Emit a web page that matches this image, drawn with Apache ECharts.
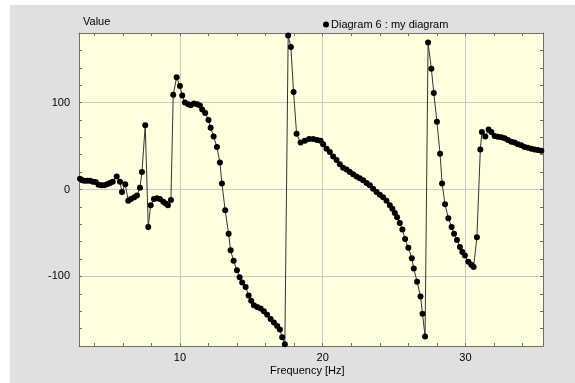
<!DOCTYPE html>
<html>
<head>
<meta charset="utf-8">
<script src="https://cdn.jsdelivr.net/npm/echarts@6/dist/echarts.min.js"></script>
<style>
html,body{margin:0;padding:0;background:#fff;}
#panel{position:absolute;left:10px;top:5px;width:565px;height:378px;background:#e0e0e0;}
#chart{position:absolute;left:0;top:0;width:575px;height:383px;}
</style>
</head>
<body>
<div id="panel"></div>
<div id="chart"></div>
<script>
const seriesName = 'Diagram 6 : my diagram';
const yAxisTitle = 'Value';
const xAxisTitle = 'Frequency [Hz]';

const freq = [
  3.00, 3.15, 3.30, 3.50, 3.70, 3.90, 4.10, 4.30, 4.50, 4.70,
  4.90, 5.10, 5.29, 5.57, 5.80, 5.94, 6.17, 6.38, 6.57, 6.80,
  6.99, 7.20, 7.34, 7.57, 7.78, 7.95, 8.18, 8.39, 8.60, 8.83,
  9.00, 9.16, 9.37, 9.53, 9.77, 10.00, 10.16, 10.35, 10.58, 10.75,
  10.98, 11.21, 11.40, 11.56, 11.77, 12.00, 12.15, 12.36, 12.59, 12.80,
  12.94, 13.17, 13.41, 13.55, 13.76, 13.99, 14.18, 14.36, 14.60, 14.81,
  14.99, 15.18, 15.41, 15.65, 15.88, 16.11, 16.35, 16.58, 16.81, 17.00,
  17.16, 17.35, 17.58, 17.77, 17.96, 18.17, 18.45, 18.75, 19.05, 19.33,
  19.61, 19.85, 20.03, 20.27, 20.50, 20.73, 20.97, 21.20, 21.43, 21.67,
  21.90, 22.13, 22.37, 22.60, 22.83, 23.07, 23.30, 23.53, 23.77, 24.00,
  24.23, 24.47, 24.70, 24.88, 25.05, 25.21, 25.40, 25.58, 25.77, 26.00,
  26.24, 26.38, 26.61, 26.85, 26.99, 27.17, 27.38, 27.61, 27.78, 28.00,
  28.22, 28.36, 28.57, 28.80, 29.03, 29.20, 29.40, 29.61, 29.78, 29.96,
  30.20, 30.41, 30.57, 30.80, 31.04, 31.15, 31.39, 31.62, 31.81, 32.04,
  32.27, 32.51, 32.74, 32.97, 33.21, 33.44, 33.67, 33.91, 34.14, 34.37,
  34.61, 34.84, 35.07, 35.31
];
const values = [
  12.5, 10.5, 10, 10, 10, 9, 8.5, 5.5, 5, 5,
  6, 7.5, 9, 15, 9, -3, 6, -13, -11, -9,
  -7, 2, 20, 74, -43, -18, -11, -10, -11, -14,
  -16, -18, -12, 109, 129, 119, 108, 100, 98, 97,
  99, 98, 96.5, 92, 88, 80, 71, 61, 49, 31,
  7, -24, -51, -70, -82, -93, -101, -107, -112, -122,
  -128, -133, -135, -137, -140, -144, -149, -153, -157, -161,
  -170, -178, 177, 164, 112, 64, 54, 56, 58, 58,
  57, 56, 52, 47, 43, 38, 34, 29, 25, 23,
  20, 17.5, 15, 13, 10.5, 7.5, 5, 1, -3, -6,
  -9, -13, -18, -22, -27, -32, -38.5, -46, -57, -67,
  -79, -91, -106, -123, -143, -169, 169, 139, 111, 78,
  41, 7, -17, -33, -43, -51, -58, -66, -72, -76,
  -83, -86.5, -89, -55, 46, 66, 61, 69, 66, 61.5,
  60.7, 60, 59, 57, 55, 54, 52, 51, 49, 48,
  47, 46, 45.5, 44.5
];

const xRange = [2.93, 35.43];
const yRange = [-180, 180];

const font = 'Liberation Sans, Arial, sans-serif';
const frameColor = '#6e6e6e';
const gridColor = '#c8c8c8';

const chart = echarts.init(document.getElementById('chart'), null, {renderer: 'canvas'});

function xAxisCfg(pos, labels) {
  return {
    type: 'value', position: pos, min: xRange[0], max: xRange[1], splitNumber: 3,
    axisLine: {show: true, onZero: false, lineStyle: {color: frameColor, width: 1}},
    axisTick: {show: true, inside: true, length: 3, lineStyle: {color: frameColor}},
    minorTick: {show: true, splitNumber: 5, length: 3, lineStyle: {color: frameColor}},
    splitLine: {show: labels, lineStyle: {color: gridColor, width: 1}},
    axisLabel: {show: labels, showMinLabel: false, showMaxLabel: false, color: '#000',
      fontFamily: font, fontSize: 11, margin: 6}
  };
}
function yAxisCfg(pos, labels) {
  return {
    type: 'value', position: pos, min: yRange[0], max: yRange[1], splitNumber: 4,
    axisLine: {show: true, onZero: false, lineStyle: {color: frameColor, width: 1}},
    axisTick: {show: true, inside: true, length: 3, lineStyle: {color: frameColor}},
    minorTick: {show: true, splitNumber: 5, length: 3, lineStyle: {color: frameColor}},
    splitLine: {show: labels, lineStyle: {color: gridColor, width: 1}},
    axisLabel: {show: labels, showMinLabel: false, showMaxLabel: false, color: '#000',
      fontFamily: font, fontSize: 11, margin: 9}
  };
}

chart.setOption({
  animation: false,
  backgroundColor: 'transparent',
  title: [
    {text: yAxisTitle, left: 78, top: 11, textStyle: {fontFamily: font, fontSize: 11, fontWeight: 'normal', color: '#000'}},
    {text: xAxisTitle, left: 265, top: 360, textStyle: {fontFamily: font, fontSize: 11, fontWeight: 'normal', color: '#000'}}
  ],
  legend: {
    data: [seriesName], left: 318, top: 14, icon: 'circle', itemWidth: 6, itemHeight: 6,
    itemGap: 2, textStyle: {fontFamily: font, fontSize: 11, color: '#000', padding: [0, 0, 0, -3]}
  },
  grid: {left: 79, top: 33, right: 32, bottom: 37, show: true, backgroundColor: '#ffffe0', borderWidth: 0},
  xAxis: [xAxisCfg('bottom', true), xAxisCfg('top', false)],
  yAxis: [yAxisCfg('left', true), yAxisCfg('right', false)],
  series: [{
    name: seriesName, type: 'line', xAxisIndex: 0, yAxisIndex: 0,
    data: freq.map((f, i) => [f, values[i]]),
    symbol: 'circle', symbolSize: 6, showAllSymbol: true,
    itemStyle: {color: '#000'},
    lineStyle: {color: '#333', width: 1}
  }]
});
</script>
</body>
</html>
